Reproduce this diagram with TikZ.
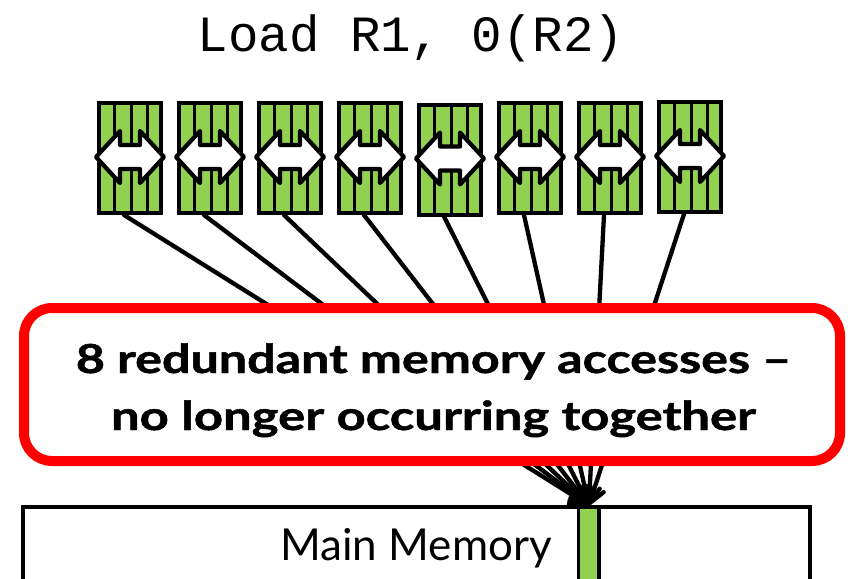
\documentclass[tikz,border=0pt]{standalone}
\usepackage{fontspec}
\newfontfamily\labelfont{Lato}
\newfontfamily\notefont[BoldFeatures={FakeBold=1.2}]{Lato}
\newfontfamily\codefont{Liberation Mono}
\usetikzlibrary{arrows.meta,calc}
\definecolor{chipgreen}{RGB}{146,208,80}
\definecolor{alertred}{RGB}{255,0,0}

\tikzset{
  module/.style={draw=black, fill=chipgreen, line width=4pt,
    minimum width=62pt, minimum height=110pt, inner sep=0pt},
  stripe/.style={draw=black, line width=3.2pt},
  biarrow/.style={draw=black, fill=white, line width=4.2pt, line join=round},
  link/.style={draw=black, line width=4.3pt, line cap=round,
    -{Straight Barb[length=15pt,width=20pt,line cap=round,line join=round]}},
  callout/.style={draw=alertred, fill=white, line width=10pt,
    rounded corners=28pt, minimum width=816pt, minimum height=153pt, inner sep=0pt},
  memframe/.style={draw=black, fill=white, line width=3.3pt,
    minimum width=787pt, minimum height=120pt, inner sep=0pt},
  memport/.style={draw=black, fill=chipgreen, line width=3.3pt,
    minimum width=20.5pt, minimum height=110pt, inner sep=0pt},
  notetext/.style={font=\notefont\bfseries\fontsize{40}{48}\selectfont, inner sep=0pt},
  memtext/.style={font=\labelfont\fontsize{44}{53}\selectfont, inner sep=0pt},
  codetext/.style={font=\codefont\fontsize{50.8}{60}\selectfont, inner sep=0pt},
}

\begin{document}
\begin{tikzpicture}[x=1pt,y=-1pt]
\useasboundingbox (0,0) rectangle (850,578);
\clip (0,0) rectangle (850,578);

% main memory block with the addressed word
\node[memframe, anchor=north] (mem) at (416.5,505.35) {};
\node[memport, anchor=north] (port) at (588.8,505.35) {};
\node[memtext, anchor=base] (memlabel) at (416,560) {Main Memory};

% eight memory modules, each with four bit lanes and a bidirectional port
\foreach \i/\dy in {1/0,2/0,3/0,4/0,5/1.5,6/0,7/0,8/-1} {
  \node[module] (m\i) at ({50+80*\i},{158+\dy}) {};
}
\foreach \i in {1,...,8} {
  \foreach \f in {0.27,0.52,0.76} {
    \draw[stripe] ($(m\i.north west)!\f!(m\i.north east)$) --
                  ($(m\i.south west)!\f!(m\i.south east)$);
  }
  \draw[biarrow, shift={(m\i.center)}]
    (-34,-1) -- (-10,-27) -- (-10,-13) -- (10,-13) -- (10,-27) --
    (34,-1) -- (10,25) -- (10,11) -- (-10,11) -- (-10,25) -- cycle;
}

% every module reaches the same memory word
\foreach \i in {1,...,8} {
  \draw[link] ($(m\i.south)+(-6,0)$) -- (port.north);
}

% callout over the converging accesses
\node[callout] (note) at (432,384.5) {};
\node[notetext, anchor=base] (noteA) at (433.5,373)
  {\scalebox{1.255}[1]{8 redundant memory accesses –}};
\node[notetext, anchor=base] (noteB) at (433.5,430)
  {\scalebox{1.27}[1]{no longer occurring together}};

% instruction
\node[codetext, anchor=base] (instr) at (411,52) {Load R1, 0(R2)};
\end{tikzpicture}
\end{document}
